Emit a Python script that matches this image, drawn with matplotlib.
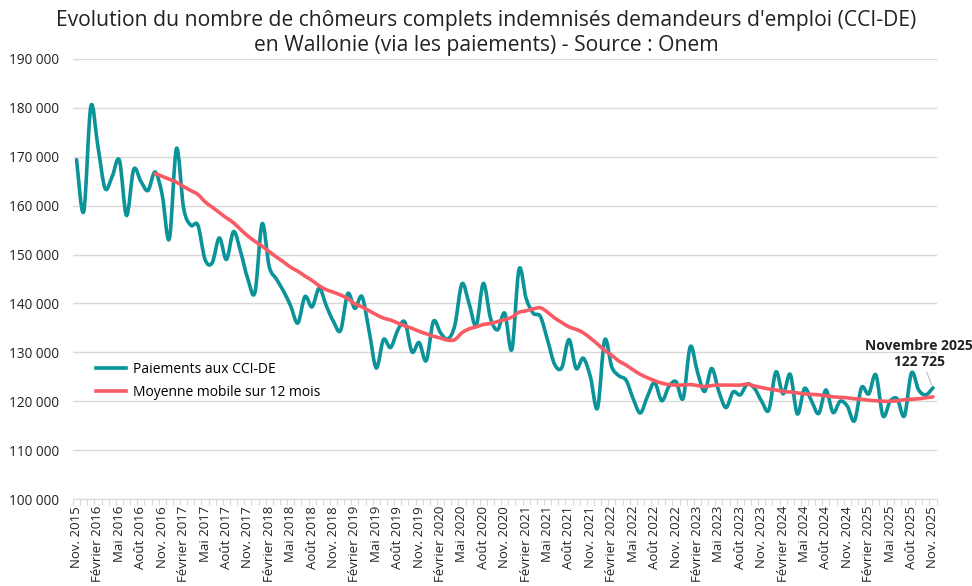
import matplotlib
matplotlib.use("Agg")
import matplotlib.pyplot as plt
import numpy as np
from matplotlib.path import Path
from matplotlib.patches import PathPatch
from matplotlib.lines import Line2D

# monthly values, Nov. 2015 -> Nov. 2025
paiements = [
    169400, 158800, 180300, 172000, 163500, 166000, 169300, 158000, 167400, 165000,
    163100, 166900, 162200, 153200, 171700, 159500, 156000, 156000, 149000, 148300,
    153400, 149000, 154700, 150500, 145000, 142300, 156300, 147500, 145000, 142500,
    139500, 136000, 141400, 139300, 143100, 139500, 136300, 134500, 142000, 139000,
    141400, 134300, 126800, 132600, 131000, 134500, 136200, 130100, 132000, 128300,
    136300, 134000, 132700, 135500, 144000, 140000, 135500, 144100, 137000, 134600,
    138000, 130600, 147000, 141000, 138000, 137300, 132500, 127500, 126900, 132600,
    126700, 128800, 125000, 118600, 132500, 127000, 125200, 124300, 120500, 117600,
    121000, 123800, 120100, 123000, 124000, 120600, 131150, 126000, 122000, 126700,
    122000, 118700, 121900, 121300, 123500, 122600, 120000, 118200, 126000, 121500,
    125500, 117400, 122600, 120000, 117500, 122300, 117700, 120000, 119000, 116000,
    122800, 121500, 125400, 117000, 120000, 120500, 117000, 125800, 122300, 121300,
    122725,
]

# 12-month moving average, starts Oct. 2016
moyenne = [
    166600, 166000, 165400, 164800, 163900, 163100, 162300, 160800, 159700,
    158600, 157500, 156500, 155100, 153800, 152700, 151700, 150600, 149500, 148500,
    147400, 146600, 145600, 144700, 143600, 142800, 142300, 141700, 141000, 139900,
    139300, 138500, 137700, 137000, 136600, 136000, 135400, 134900, 134300, 133800,
    133300, 132900, 132500, 132600, 134000, 134800, 135200, 135700, 135900, 136300,
    136700, 137200, 138200, 138500, 138900, 139100, 138200, 137000, 136100, 135200,
    134700, 134000, 132900, 131700, 130400, 129400, 128200, 127400, 126400, 125500,
    124800, 124200, 123700, 123400, 123300, 123300, 123400, 123200, 123000, 123200,
    123300, 123300, 123300, 123300, 123500, 123100, 122800, 122500, 122300, 122000,
    121900, 121700, 121500, 121400, 121300, 121100, 120900, 120800, 120700, 120500,
    120400, 120200, 120100, 120000, 120000, 120100, 120300, 120400, 120500, 120700,
    120900,
]

tick_labels = [
    "Nov. 2015", "Février 2016", "Mai 2016", "Août 2016", "Nov. 2016",
    "Février 2017", "Mai 2017", "Août 2017", "Nov. 2017",
    "Février 2018", "Mai 2018", "Août 2018", "Nov. 2018",
    "Février 2019", "Mai 2019", "Août 2019", "Nov. 2019",
    "Février 2020", "Mai 2020", "Août 2020", "Nov. 2020",
    "Février 2021", "Mai 2021", "Août 2021", "Nov. 2021",
    "Février 2022", "Mai 2022", "Août 2022", "Nov. 2022",
    "Février 2023", "Mai 2023", "Août 2023", "Nov. 2023",
    "Février 2024", "Mai 2024", "Août 2024", "Nov. 2024",
    "Février 2025", "Mai 2025", "Août 2025", "Nov. 2025",
]

TEAL = "#0A9399"
RED = "#FA5A64"
GRID = "#D9D9D9"

plt.rcParams["font.family"] = ["Open Sans", "DejaVu Sans"]


def smooth_path(xs, ys):
    # Bezier segments through every point (catmull-rom like Excel's smoothed line)
    xs = np.asarray(xs, float)
    ys = np.asarray(ys, float)
    n = len(xs)
    verts = [(xs[0], ys[0])]
    codes = [Path.MOVETO]
    for i in range(n - 1):
        i0 = max(i - 1, 0)
        i3 = min(i + 2, n - 1)
        c1 = (xs[i] + (xs[i + 1] - xs[i0]) / 6, ys[i] + (ys[i + 1] - ys[i0]) / 6)
        c2 = (xs[i + 1] - (xs[i3] - xs[i]) / 6, ys[i + 1] - (ys[i3] - ys[i]) / 6)
        verts += [c1, c2, (xs[i + 1], ys[i + 1])]
        codes += [Path.CURVE4] * 3
    return Path(verts, codes)


fig = plt.figure(figsize=(9.72, 5.86), dpi=100)
ax = fig.add_axes([73 / 972, 1 - 499 / 586, (936.5 - 73) / 972, (499 - 59) / 586])

x_all = np.arange(len(paiements))
x_ma = np.arange(len(paiements) - len(moyenne), len(paiements))

ax.add_patch(PathPatch(smooth_path(x_all, paiements), fill=False, edgecolor=TEAL,
                       lw=2.6, capstyle="round", joinstyle="round", zorder=3))
ax.add_patch(PathPatch(smooth_path(x_ma, moyenne), fill=False, edgecolor=RED,
                       lw=2.6, capstyle="round", joinstyle="round", zorder=4))

ax.set_xlim(-0.5, len(paiements) - 0.5)
ax.set_ylim(100000, 190000)

yt = np.arange(100000, 190001, 10000)
ax.set_yticks(yt)
ax.set_yticklabels([f"{v:,}".replace(",", " ") for v in yt], fontsize=9.8, color="#222222")
ax.yaxis.grid(True, color=GRID, lw=1)
ax.set_axisbelow(True)

ax.set_xticks(np.arange(0, len(paiements), 3))
ax.set_xticklabels(tick_labels, rotation=90, fontsize=9.5, color="#222222")
ax.set_xticks(np.arange(-0.5, len(paiements), 1), minor=True)
ax.tick_params(axis="x", which="major", length=0, pad=5)
ax.tick_params(axis="x", which="minor", length=4, color=GRID, width=0.8)
ax.tick_params(axis="y", length=0, pad=10)

for s in ["top", "right", "left"]:
    ax.spines[s].set_visible(False)
ax.spines["bottom"].set_color(GRID)

fig.text(0.5, 1 - 33 / 586,
         "Evolution du nombre de chômeurs complets indemnisés demandeurs d'emploi (CCI-DE)\n"
         "en Wallonie (via les paiements) - Source : Onem",
         ha="center", va="center", fontsize=15.2, color="#222222", linespacing=1.25)

handles = [Line2D([], [], color=TEAL, lw=2.6), Line2D([], [], color=RED, lw=2.6)]
ax.legend(handles, ["Paiements aux CCI-DE", "Moyenne mobile sur 12 mois"],
          loc="upper left", bbox_to_anchor=(0.012, 0.34), frameon=False,
          fontsize=10, handlelength=2.2, handletextpad=0.5, labelspacing=0.6)

last = len(paiements) - 1
ax.annotate(f"Novembre 2025\n{paiements[-1]:,}".replace(",", " "),
            xy=(last, paiements[-1]), xytext=(last - 1.9, 126600),
            ha="center", va="bottom", fontsize=10, fontweight="bold",
            color="#222222", annotation_clip=False,
            arrowprops=dict(arrowstyle="-", color="#BFBFBF", lw=0.8, shrinkA=0, shrinkB=2))

fig.savefig("out.png", dpi=100)
